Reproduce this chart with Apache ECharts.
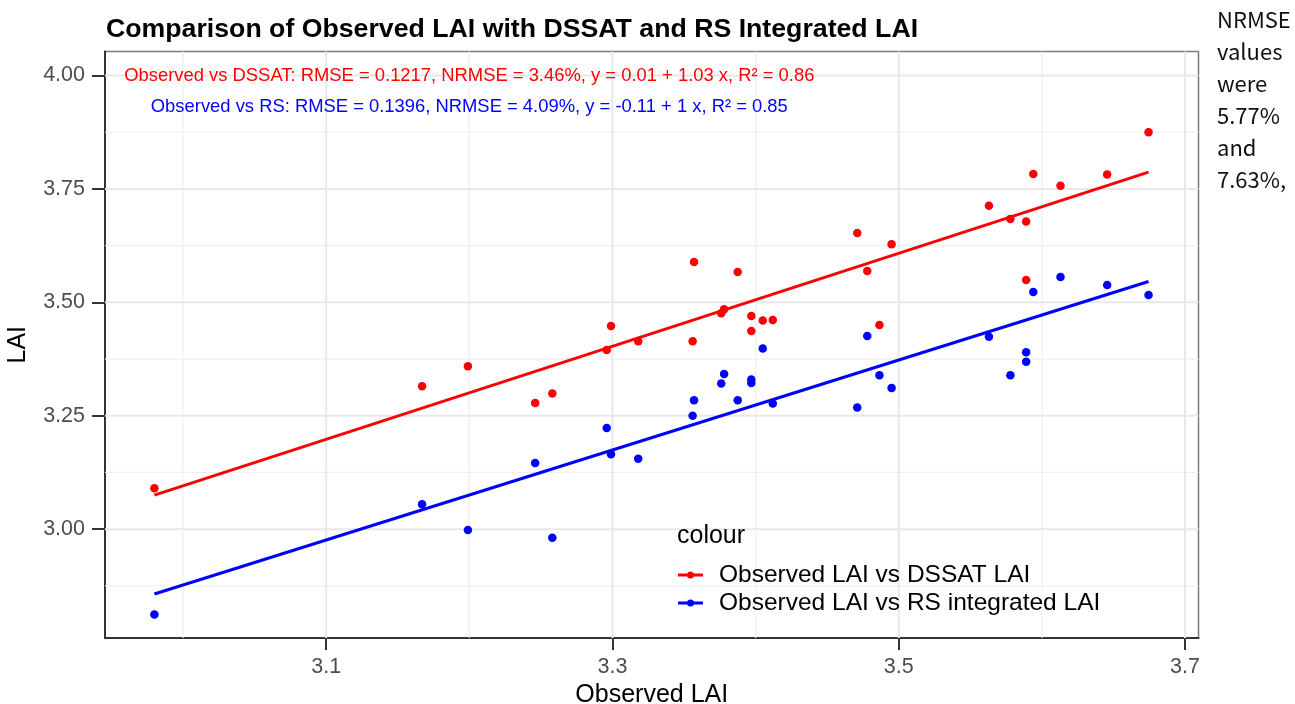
<!DOCTYPE html>
<html>
<head>
<meta charset="utf-8">
<script src="https://cdn.jsdelivr.net/npm/echarts@6/dist/echarts.min.js"></script>
<style>
  html, body { margin: 0; padding: 0; background: #fff; overflow: hidden; }
  #chart { width: 1295px; height: 704px; }
</style>
</head>
<body>
<div id="chart"></div>
<script>
// ---- data ----
const obsLAI   = [2.980, 3.167, 3.199, 3.246, 3.258, 3.296, 3.299, 3.318, 3.356, 3.357, 3.376, 3.378, 3.3875, 3.397, 3.397, 3.405, 3.412, 3.471, 3.478, 3.4865, 3.495, 3.563, 3.578, 3.589, 3.589, 3.594, 3.613, 3.6456, 3.6745];
const dssatLAI = [3.090, 3.315, 3.359, 3.278, 3.299, 3.395, 3.448, 3.414, 3.414, 3.589, 3.476, 3.485, 3.567, 3.470, 3.437, 3.460, 3.461, 3.653, 3.569, 3.450, 3.628, 3.713, 3.684, 3.678, 3.549, 3.783, 3.757, 3.782, 3.875];
const rsLAI    = [2.812, 3.055, 2.998, 3.146, 2.981, 3.223, 3.165, 3.155, 3.250, 3.284, 3.321, 3.342, 3.284, 3.330, 3.322, 3.398, 3.277, 3.268, 3.426, 3.339, 3.311, 3.424, 3.339, 3.390, 3.369, 3.523, 3.556, 3.538, 3.516];

// fitted regression lines (ends)
const fitX     = [2.980, 3.6745];
const fitDssat = [3.075, 3.787];
const fitRs    = [2.857, 3.546];

// axis ranges, ticks & grid
const xRange  = [2.9455, 3.7094];
const yRange  = [2.760, 4.053];
const xTicks  = [3.1, 3.3, 3.5, 3.7];
const xMinor  = [3.0, 3.2, 3.4, 3.6];
const yTicks  = [3.00, 3.25, 3.50, 3.75, 4.00];
const yMinor  = [2.875, 3.125, 3.375, 3.625, 3.875];

const seriesNames = ['Observed LAI vs DSSAT LAI', 'Observed LAI vs RS integrated LAI'];
const seriesColors = ['#ff0000', '#0000ff'];
const annotTexts = [
  'Observed vs DSSAT: RMSE = 0.1217, NRMSE = 3.46%, y = 0.01 + 1.03 x, R\u00b2 = 0.86',
  'Observed vs RS: RMSE = 0.1396, NRMSE = 4.09%, y = -0.11 + 1 x, R\u00b2 = 0.85'
];
const annotPos = [[3.2, 4.0], [3.2, 3.93]];
const sideText = ['NRMSE', 'values', 'were', '5.77%', 'and', '7.63%,'];

const FONT = '"Liberation Sans", Arial, Helvetica, sans-serif';

const chart = echarts.init(document.getElementById('chart'), null, { renderer: 'canvas' });

function gridSeries(points, color, width) {
  return {
    type: 'line', z: 0, silent: true, showSymbol: false, symbol: 'none',
    data: points, lineStyle: { color: color, width: width }, animation: false
  };
}
const gridLines = [];
xMinor.forEach(v => gridLines.push(gridSeries([[v, yRange[0]], [v, yRange[1]]], '#efefef', 1.2)));
yMinor.forEach(v => gridLines.push(gridSeries([[xRange[0], v], [xRange[1], v]], '#efefef', 1.2)));
xTicks.forEach(v => gridLines.push(gridSeries([[v, yRange[0]], [v, yRange[1]]], '#e8e8e8', 2)));
yTicks.forEach(v => gridLines.push(gridSeries([[xRange[0], v], [xRange[1], v]], '#e8e8e8', 2)));

const option = {
  animation: false,
  backgroundColor: '#ffffff',
  title: {
    text: 'Comparison of Observed LAI with DSSAT and RS Integrated LAI',
    left: 106, top: 16, padding: 0,
    textStyle: { fontFamily: FONT, fontWeight: 'bold', fontSize: 26.7, color: '#000', lineHeight: 27 }
  },
  grid: {
    left: 105, right: 96.5, top: 51.5, bottom: 66,
    outerBoundsMode: 'none', containLabel: false,
    show: true, borderColor: '#7a7a7a', borderWidth: 1.5, backgroundColor: '#fff'
  },
  xAxis: {
    type: 'value', min: xRange[0], max: xRange[1],
    name: 'Observed LAI', nameLocation: 'middle', nameGap: 40,
    nameTextStyle: { fontFamily: FONT, fontSize: 25, color: '#000' },
    axisLine: { show: true, onZero: false, lineStyle: { color: '#333', width: 2 } },
    axisTick: { show: true, length: 12, customValues: xTicks, lineStyle: { color: '#333', width: 2 } },
    axisLabel: { customValues: xTicks, formatter: v => Number(v).toFixed(1), color: '#4d4d4d', fontFamily: FONT, fontSize: 21.5, margin: 18 },
    splitLine: { show: false }
  },
  yAxis: {
    type: 'value', min: yRange[0], max: yRange[1],
    name: 'LAI', nameLocation: 'middle', nameGap: 74, nameRotate: 90,
    nameTextStyle: { fontFamily: FONT, fontSize: 25, color: '#000' },
    axisLine: { show: true, onZero: false, lineStyle: { color: '#333', width: 2 } },
    axisTick: { show: true, length: 13, customValues: yTicks, lineStyle: { color: '#333', width: 2 } },
    axisLabel: { customValues: yTicks, formatter: v => Number(v).toFixed(2), color: '#4d4d4d', fontFamily: FONT, fontSize: 21.5, margin: 20 },
    splitLine: { show: false }
  },
  series: gridLines.concat([
    {
      name: seriesNames[0] + ' fit', type: 'line', z: 2, showSymbol: false, symbol: 'none', silent: true,
      data: fitX.map((x, i) => [x, fitDssat[i]]),
      lineStyle: { color: seriesColors[0], width: 3 }
    },
    {
      name: seriesNames[1] + ' fit', type: 'line', z: 2, showSymbol: false, symbol: 'none', silent: true,
      data: fitX.map((x, i) => [x, fitRs[i]]),
      lineStyle: { color: seriesColors[1], width: 3 }
    },
    {
      name: seriesNames[0], type: 'scatter', z: 3, symbolSize: 8.5,
      data: obsLAI.map((x, i) => [x, dssatLAI[i]]),
      itemStyle: { color: seriesColors[0], opacity: 1 }
    },
    {
      name: seriesNames[1], type: 'scatter', z: 3, symbolSize: 8.5,
      data: obsLAI.map((x, i) => [x, rsLAI[i]]),
      itemStyle: { color: seriesColors[1], opacity: 1 }
    }
  ])
};

chart.setOption(option);

// annotations placed through the chart's own scales
const graphics = [];
annotTexts.forEach((t, i) => {
  const p = chart.convertToPixel({ gridIndex: 0 }, annotPos[i]);
  graphics.push({
    type: 'text', x: p[0], y: p[1], z: 10,
    style: { text: t, fill: seriesColors[i], font: '18.4px ' + FONT, textAlign: 'center', textVerticalAlign: 'middle' }
  });
});

// legend (ggplot style, inside panel)
graphics.push({
  type: 'text', x: 677, y: 536, z: 10,
  style: { text: 'colour', fill: '#000', font: '25px ' + FONT, textAlign: 'left', textVerticalAlign: 'middle' }
});
const legY = [575, 603];
seriesNames.forEach((n, i) => {
  graphics.push({ type: 'line', z: 10, shape: { x1: 678, y1: legY[i], x2: 703, y2: legY[i] }, style: { stroke: seriesColors[i], lineWidth: 3 } });
  graphics.push({ type: 'circle', z: 10, shape: { cx: 690.5, cy: legY[i], r: 3.5 }, style: { fill: seriesColors[i] } });
  graphics.push({
    type: 'text', x: 719, y: legY[i], z: 10,
    style: { text: n, fill: '#000', font: '24.5px ' + FONT, textAlign: 'left', textVerticalAlign: 'middle' }
  });
});

// cropped page text at right
sideText.forEach((t, i) => {
  graphics.push({
    type: 'text', x: 1217, y: 20 + i * 32, z: 10,
    style: { text: t, fill: '#111', font: '22px "Noto Sans CJK SC", "Noto Sans", sans-serif', textAlign: 'left', textVerticalAlign: 'middle' }
  });
});

chart.setOption({ graphic: graphics });
</script>
</body>
</html>
